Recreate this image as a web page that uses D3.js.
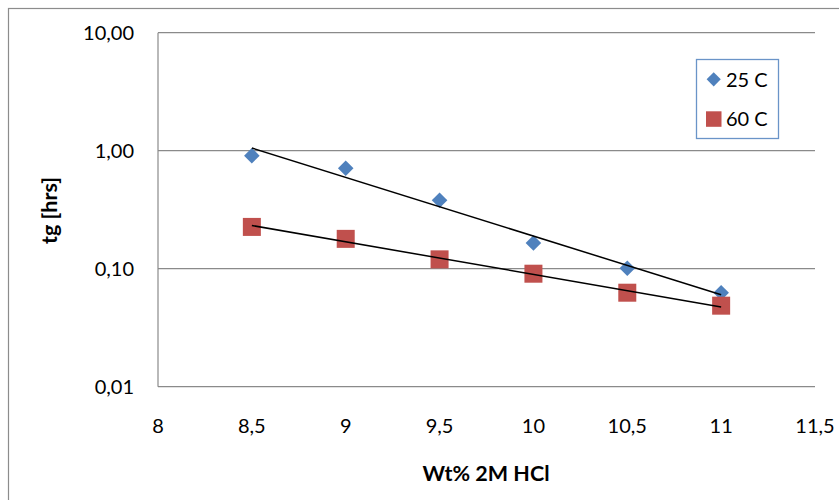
<!DOCTYPE html>
<html>
<head>
<meta charset="utf-8">
<script src="https://cdn.jsdelivr.net/npm/d3@7"></script>
<style>
  html, body { margin: 0; padding: 0; background: #fff; }
  svg { display: block; font-family: Lato, "Open Sans", sans-serif; }
</style>
</head>
<body>
<svg id="chart" width="839" height="500"></svg>
<script>
// Concentration of 2M HCl (wt%)
const xValues = [8.5, 9, 9.5, 10, 10.5, 11];
// Gel time tg [hrs] at each temperature
const series25 = [0.907, 0.709, 0.380, 0.165, 0.101, 0.0626];
const series60 = [0.226, 0.179, 0.120, 0.0907, 0.0626, 0.0486];
const seriesNames = ["25 C", "60 C"];
const xTicks = [8, 8.5, 9, 9.5, 10, 10.5, 11, 11.5];
const yTicks = [0.01, 0.1, 1, 10];

const colors = ["#4F81BD", "#C0504D"];
const svg = d3.select("#chart");

const x = d3.scaleLinear().domain([8, 11.5]).range([158, 815]);
const y = d3.scaleLog().domain([0.01, 10]).range([386.7, 32.7]);

// chart frame
svg.append("rect")
  .attr("x", 8.5).attr("y", 8.5)
  .attr("width", 860).attr("height", 520)
  .attr("fill", "#fff").attr("stroke", "#8c8c8c").attr("stroke-width", 1.2);

// horizontal gridlines (and bottom of plot area)
svg.append("g").selectAll("line").data(yTicks).join("line")
  .attr("x1", x(8)).attr("x2", x(11.5))
  .attr("y1", d => y(d)).attr("y2", d => y(d))
  .attr("stroke", "#8a8a8a").attr("stroke-width", 1.2);

// left edge of plot area
svg.append("line")
  .attr("x1", x(8)).attr("x2", x(8))
  .attr("y1", y(10)).attr("y2", y(0.01))
  .attr("stroke", "#8a8a8a").attr("stroke-width", 1.2);

const fmt2 = d => d.toFixed(2).replace(".", ",");
const fmtX = d => String(d).replace(".", ",");

// y tick labels
svg.append("g").selectAll("text").data(yTicks).join("text")
  .attr("x", 134).attr("y", d => y(d) + 7)
  .attr("text-anchor", "end")
  .attr("font-size", 20).attr("fill", "#000")
  .text(fmt2);

// x tick labels
svg.append("g").selectAll("text").data(xTicks).join("text")
  .attr("x", d => x(d)).attr("y", 433)
  .attr("text-anchor", "middle")
  .attr("font-size", 20).attr("fill", "#000")
  .text(fmtX);

// axis titles
svg.append("text")
  .attr("x", 486).attr("y", 480.5)
  .attr("text-anchor", "middle")
  .attr("font-size", 21.5).attr("font-weight", "bold")
  .text("Wt% 2M HCl");

svg.append("text")
  .attr("transform", "translate(56.5,210.5) rotate(-90)")
  .attr("text-anchor", "middle")
  .attr("font-size", 21.5).attr("font-weight", "bold")
  .text("tg [hrs]");

const diamond = d3.symbol().type(d3.symbolDiamond2);

// series markers
const data = [series25, series60];
data.forEach((vals, i) => {
  const g = svg.append("g");
  const pts = xValues.map((xv, j) => [xv, vals[j]]);
  if (i === 0) {
    g.selectAll("path").data(pts).join("path")
      .attr("d", diamond.size(2 * 8.8 * 8.8)())
      .attr("transform", d => `translate(${x(d[0])},${y(d[1])})`)
      .attr("fill", colors[0]);
  } else {
    const s = 18;
    g.selectAll("rect").data(pts).join("rect")
      .attr("x", d => x(d[0]) - s / 2).attr("y", d => y(d[1]) - s / 2)
      .attr("width", s).attr("height", s)
      .attr("fill", colors[1]);
  }
});

// exponential trendlines (least squares on log10 values)
function expFit(xs, ys) {
  const ly = ys.map(v => Math.log10(v));
  const mx = d3.mean(xs), my = d3.mean(ly);
  const b = d3.sum(xs, (v, k) => (v - mx) * (ly[k] - my)) / d3.sum(xs, v => (v - mx) ** 2);
  const a = my - b * mx;
  return xv => Math.pow(10, a + b * xv);
}
data.forEach(vals => {
  const f = expFit(xValues, vals);
  const x0 = d3.min(xValues), x1 = d3.max(xValues);
  svg.append("line")
    .attr("x1", x(x0)).attr("y1", y(f(x0)))
    .attr("x2", x(x1)).attr("y2", y(f(x1)))
    .attr("stroke", "#000").attr("stroke-width", 1.5);
});

// legend
const lg = svg.append("g");
lg.append("rect")
  .attr("x", 696.5).attr("y", 59.5).attr("width", 82).attr("height", 79)
  .attr("fill", "#fff").attr("stroke", "#6a94c8").attr("stroke-width", 1.3);
lg.append("path")
  .attr("d", diamond.size(2 * 8 * 8)())
  .attr("transform", "translate(713.7,79.3)")
  .attr("fill", colors[0]);
lg.append("rect")
  .attr("x", 706).attr("y", 111.3).attr("width", 15.5).attr("height", 15.5)
  .attr("fill", colors[1]);
lg.selectAll("text").data(seriesNames).join("text")
  .attr("x", 726).attr("y", (d, i) => 86.5 + i * 39.7)
  .attr("font-size", 20).attr("fill", "#000")
  .text(d => d);
</script>
</body>
</html>
